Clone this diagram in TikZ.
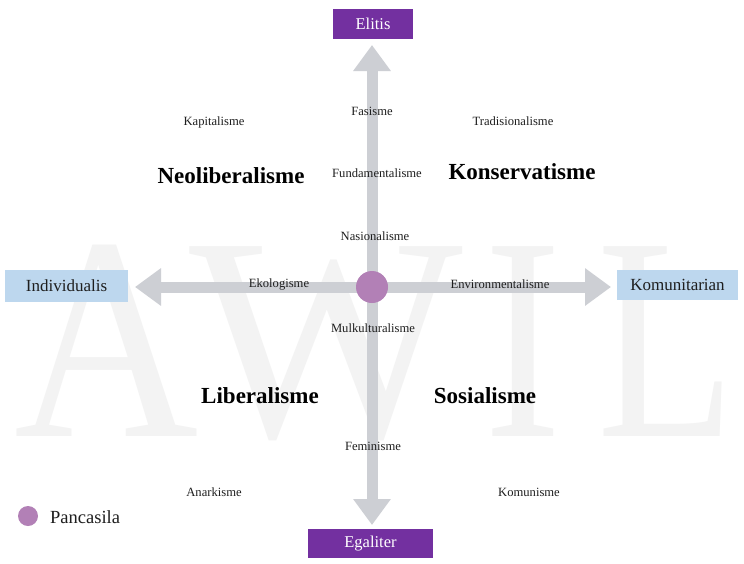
\documentclass[tikz,border=0pt]{standalone}
\usepackage{fontspec}
\setmainfont{Liberation Serif}
\usetikzlibrary{arrows.meta}
\definecolor{boxpurple}{RGB}{115,48,160}
\definecolor{boxblue}{RGB}{189,215,238}
\definecolor{axisgray}{RGB}{205,207,212}
\definecolor{dotpurple}{RGB}{178,128,182}
\definecolor{wmgray}{RGB}{243,243,243}
\definecolor{txt}{RGB}{30,30,30}
\tikzset{
  wm/.style={inner sep=0pt, anchor=base, text=wmgray, font=\fontsize{290}{290}\selectfont},
  axisline/.style={line width=11pt, draw=axisgray,
    {Triangle[length=26pt,width=36pt]}-{Triangle[length=26pt,width=36pt]}},
  pbox/.style={fill=boxpurple, text=white, inner sep=0pt, font=\fontsize{16.5}{18}\selectfont},
  bbox/.style={fill=boxblue, text=txt, inner sep=0pt, font=\fontsize{17}{19}\selectfont},
  small/.style={text=txt, inner sep=1pt, font=\fontsize{12.6}{14}\selectfont},
  big/.style={text=black, inner sep=1pt, font=\fontsize{23}{26}\selectfont\bfseries},
  dot/.style={circle, fill=dotpurple, inner sep=0pt}
}
\begin{document}
\begin{tikzpicture}[x=1pt,y=-1pt]
\useasboundingbox[fill=white] (0,0) rectangle (744,563);
% watermark
\node[wm, xscale=0.88] (wA) at (107,436) {A};
\node[wm] (wW) at (326,436) {W};
\node[wm, xscale=0.8] (wI) at (523,436) {I};
\node[wm, xscale=0.78] (wL) at (667,436) {L};
% axes
\coordinate (ntip) at (372,45);
\coordinate (stip) at (372,525);
\coordinate (wtip) at (135,287);
\coordinate (etip) at (611,287);
\draw[axisline] (stip) -- (ntip);
\draw[axisline] (wtip) -- (etip);
\node[dot, minimum size=32pt] (pancasila) at (372,287) {};
% boxes
\node[pbox, minimum width=80pt, minimum height=30pt] (elitis) at (373,24) {Elitis};
\node[pbox, minimum width=125pt, minimum height=29pt] (egaliter) at (370.5,543.5) {Egaliter};
\node[bbox, minimum width=123pt, minimum height=32pt] (individualis) at (66.5,286) {Individualis};
\node[bbox, minimum width=121pt, minimum height=30pt] (komunitarian) at (677.5,285) {Komunitarian};
% small labels
\node[small] (kapitalisme) at (214,122) {Kapitalisme};
\node[small] (tradisionalisme) at (513,121) {Tradisionalisme};
\node[small] (fasisme) at (372,111) {Fasisme};
\node[small] (fundamentalisme) at (377,173) {Fundamentalisme};
\node[small] (nasionalisme) at (375,236) {Nasionalisme};
\node[small] (ekologisme) at (279,284) {Ekologisme};
\node[small] (environmentalisme) at (500,284) {Environmentalisme};
\node[small] (mulkulturalisme) at (373,328) {Mulkulturalisme};
\node[small] (feminisme) at (373,446) {Feminisme};
\node[small] (anarkisme) at (214,492) {Anarkisme};
\node[small] (komunisme) at (529,492) {Komunisme};
% big labels
\node[big] (neoliberalisme) at (231,176) {Neoliberalisme};
\node[big] (konservatisme) at (522,172) {Konservatisme};
\node[big] (liberalisme) at (260,396) {Liberalisme};
\node[big] (sosialisme) at (485,396) {Sosialisme};
% legend
\node[dot, minimum size=20pt] (legdot) at (28,516) {};
\node[text=txt, inner sep=0pt, anchor=west, font=\fontsize{18.5}{20}\selectfont] (legtext) at (50,517) {Pancasila};
\end{tikzpicture}
\end{document}
